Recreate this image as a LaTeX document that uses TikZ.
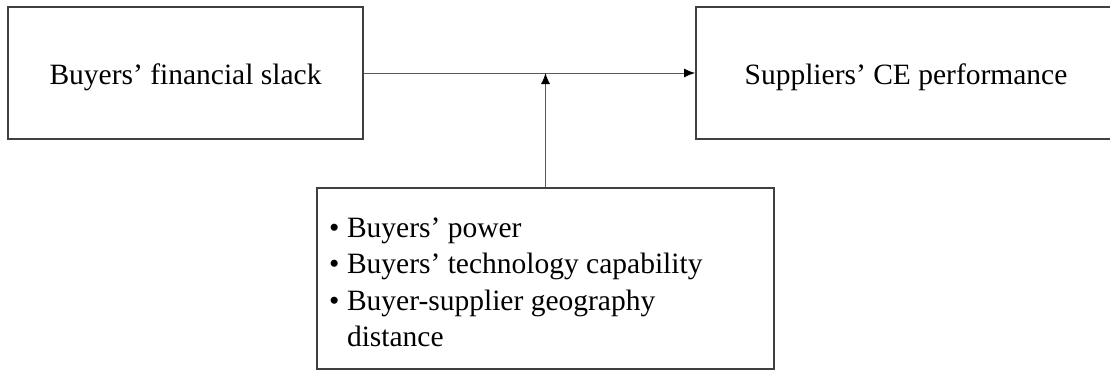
\documentclass[tikz,border=0pt]{standalone}
\usepackage{fontspec}
\setmainfont{Liberation Serif}
\usetikzlibrary{arrows.meta}
\newcommand{\downby}[2]{\raisebox{0pt}[\dimexpr\height+#1\relax][\depth]{#2}}
\begin{document}
\begin{tikzpicture}[x=1pt,y=-1pt,
  box/.style={draw=black!75, line width=1.8pt, inner sep=0pt, font=\fontsize{29.5}{36.5}\selectfont, text=black},
  conn/.style={draw=black!65, line width=1pt},
  tip/.style={-{Latex[length=11pt,width=9pt,black]}}]
\useasboundingbox (0,0) rectangle (1110,370);
\node[box, minimum width=355pt, minimum height=132pt] (L) at (185.5,73) {\downby{9pt}{Buyers’ financial slack}};
\node[box, minimum width=420pt, minimum height=132pt] (R) at (906,73) {\downby{9pt}{Suppliers’ CE performance}};
\node[box, minimum width=457pt, minimum height=181pt, inner xsep=12pt] (B) at (545.5,278.5) {\parbox{433pt}{\raggedright\vspace*{8pt}%
\makebox[18pt][l]{\textbullet}Buyers’ power\\
\makebox[18pt][l]{\textbullet}Buyers’ technology capability\\
\makebox[18pt][l]{\textbullet}Buyer-supplier geography\\
\hspace*{18pt}distance}};
\coordinate (M) at (B.north |- L.east);
\draw[conn, tip] (L.east) -- (R.west);
\draw[conn, tip] (B.north) -- (M);
\end{tikzpicture}
\end{document}
